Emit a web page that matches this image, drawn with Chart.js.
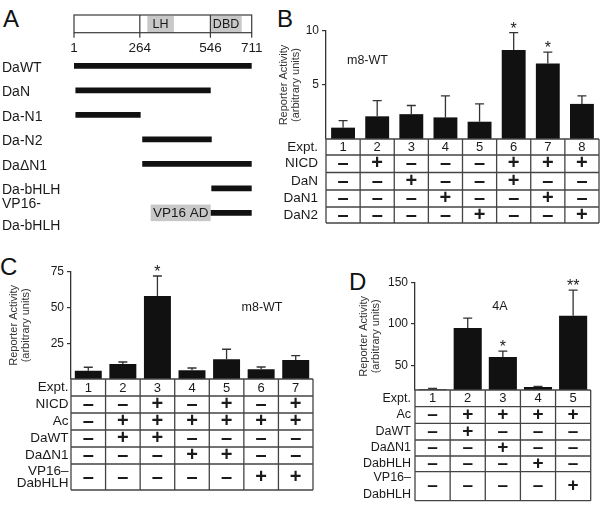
<!DOCTYPE html>
<html>
<head>
<meta charset="utf-8">
<script src="https://cdn.jsdelivr.net/npm/chart.js@4.4.1/dist/chart.umd.min.js"></script>
<style>
body { margin: 0; background: #fff; width: 600px; height: 510px; position: relative; overflow: hidden; font-family: 'Liberation Sans', Arial, sans-serif; }
canvas { position: absolute; }
.letter { position: absolute; font-size: 24px; line-height: 24px; color: #111; }
</style>
</head>
<body>
<div class="letter" style="left:3px;top:7px">A</div>
<div class="letter" style="left:277px;top:7px">B</div>
<div class="letter" style="left:0px;top:255px">C</div>
<div class="letter" style="left:349px;top:270px">D</div>
<canvas id="chartA" width="270" height="245" style="left:0;top:0"></canvas>
<canvas id="chartB" width="330" height="232" style="left:270px;top:0"></canvas>
<canvas id="chartC" width="316" height="250" style="left:0;top:250px"></canvas>
<canvas id="chartD" width="300" height="240" style="left:300px;top:270px"></canvas>
<script>
// panel A - constructs (residue numbers)
const aConstructs = ['DaWT', 'DaN', 'Da-N1', 'Da-N2', 'DaΔN1', 'Da-bHLH', ['VP16-', 'Da-bHLH']];
const aSpans = [[1, 711], [8, 546], [8, 266], [275, 550], [275, 711], [551, 711], [547, 711]];
const aTicks = [1, 264, 546, 711];
const aDomains = ['LH', 'DBD'];
const aDomainSpans = [[294, 400], [546, 671]];

// panel B - m8-WT
const bExpt = ['1', '2', '3', '4', '5', '6', '7', '8'];
const bMeans = [1.05, 2.1, 2.3, 2.0, 1.6, 8.25, 7.0, 3.25];
const bErrors = [0.65, 1.45, 0.8, 2.0, 1.65, 1.6, 1.05, 0.75];
const bStars = ['', '', '', '', '', '*', '*', ''];
const bYTicks = [5, 10];
const bRowLabels = ['NICD', 'DaN', 'DaN1', 'DaN2'];
const bSigns = [
    ['–', '+', '–', '–', '–', '+', '+', '+'],
    ['–', '–', '+', '–', '–', '+', '–', '–'],
    ['–', '–', '–', '+', '–', '–', '+', '–'],
    ['–', '–', '–', '–', '+', '–', '–', '+']
];

// panel C - m8-WT
const cExpt = ['1', '2', '3', '4', '5', '6', '7'];
const cMeans = [5.8, 10.5, 58, 6.1, 13.8, 6.8, 13.3];
const cErrors = [2.4, 1.4, 14, 1.6, 7, 1.6, 3];
const cStars = ['', '', '*', '', '', '', ''];
const cYTicks = [25, 50, 75];
const cRowLabels = ['NICD', 'Ac', 'DaWT', 'DaΔN1', ['VP16–', 'DabHLH']];
const cSigns = [
    ['–', '–', '+', '–', '+', '–', '+'],
    ['–', '+', '+', '+', '+', '+', '+'],
    ['–', '+', '+', '–', '–', '–', '–'],
    ['–', '–', '–', '+', '+', '–', '–'],
    ['–', '–', '–', '–', '–', '+', '+']
];

// panel D - 4A
const dExpt = ['1', '2', '3', '4', '5'];
const dMeans = [21, 95, 60, 23.5, 110];
const dErrors = [1, 12, 7, 1, 31];
const dStars = ['', '', '*', '', '**'];
const dYTicks = [50, 100, 150];
const dRowLabels = ['Ac', 'DaWT', 'DaΔN1', 'DabHLH', ['VP16–', 'DabHLH']];
const dSigns = [
    ['–', '+', '+', '+', '+'],
    ['–', '+', '–', '–', '–'],
    ['–', '–', '+', '–', '–'],
    ['–', '–', '–', '+', '–'],
    ['–', '–', '–', '–', '+']
];

const FONT = "'Liberation Sans', Arial, sans-serif";
const INK = '#1a1a1a';
const LINE = '#3a3a3a';

// domain map on top of panel A, construct names, VP16 AD box
const domainPlugin = {
    id: 'domainPlugin',
    afterDraw(chart) {
        const ctx = chart.ctx;
        const x = chart.scales.x;
        const y = chart.scales.y;
        const top = 15, bottom = 32.7;
        ctx.save();
        ctx.font = '12.5px ' + FONT;
        ctx.textAlign = 'center';
        ctx.textBaseline = 'middle';
        aDomainSpans.forEach((s, i) => {
            const x0 = x.getPixelForValue(s[0]), x1 = x.getPixelForValue(s[1]);
            ctx.fillStyle = '#c8c8c8';
            ctx.fillRect(x0, top + 1, x1 - x0, bottom - top - 1);
            ctx.fillStyle = INK;
            ctx.fillText(aDomains[i], (x0 + x1) / 2, (top + bottom) / 2 + 0.5);
        });
        ctx.strokeStyle = LINE;
        ctx.lineWidth = 1.2;
        const l = x.getPixelForValue(aTicks[0]), r = x.getPixelForValue(aTicks[aTicks.length - 1]);
        ctx.strokeRect(l, top, r - l, bottom - top);
        ctx.beginPath();
        aTicks.forEach(t => {
            const px = x.getPixelForValue(t);
            if (t !== aTicks[0] && t !== aTicks[aTicks.length - 1]) {
                ctx.moveTo(px, top);
                ctx.lineTo(px, bottom);
            }
            ctx.moveTo(px, bottom);
            ctx.lineTo(px, bottom + 5);
        });
        ctx.stroke();
        ctx.fillStyle = INK;
        ctx.font = '13.5px ' + FONT;
        aTicks.forEach(t => ctx.fillText(String(t), x.getPixelForValue(t), 48.5));

        // construct names, left aligned at the canvas edge
        ctx.font = '14px ' + FONT;
        ctx.textAlign = 'left';
        aConstructs.forEach((name, i) => {
            const lines = [].concat(name);
            const cy = y.getPixelForValue(i) + 2;
            lines.forEach((ln, k) => ctx.fillText(ln, 2, cy + (k - (lines.length - 1) / 2) * 21.7));
        });

        // VP16 activation domain box in front of the last construct
        const meta = chart.getDatasetMeta(0);
        const bar = meta.data[meta.data.length - 1];
        const start = Math.min(bar.base, bar.x);
        ctx.fillStyle = '#c8c8c8';
        ctx.fillRect(start - 60, bar.y - 8.3, 60, 16.6);
        ctx.fillStyle = INK;
        ctx.font = '13.5px ' + FONT;
        ctx.textAlign = 'center';
        ctx.fillText('VP16 AD', start - 30, bar.y + 0.5);
        ctx.restore();
    }
};

// error bars, stars, inner note and the +/- table under each bar chart
const panelExtras = {
    id: 'panelExtras',
    afterDatasetsDraw(chart, args, opts) {
        const ctx = chart.ctx;
        const y = chart.scales.y;
        const ds = chart.data.datasets[0];
        const meta = chart.getDatasetMeta(0);
        ctx.save();
        ctx.strokeStyle = '#333';
        ctx.lineWidth = 1.3;
        meta.data.forEach((bar, i) => {
            const top = y.getPixelForValue(ds.data[i] + opts.errors[i]);
            ctx.beginPath();
            ctx.moveTo(bar.x, bar.y);
            ctx.lineTo(bar.x, top);
            ctx.moveTo(bar.x - 4.5, top);
            ctx.lineTo(bar.x + 4.5, top);
            ctx.stroke();
            if (opts.stars[i]) {
                ctx.fillStyle = INK;
                ctx.font = '16px ' + FONT;
                ctx.textAlign = 'center';
                ctx.textBaseline = 'alphabetic';
                ctx.fillText(opts.stars[i], bar.x, top + 1);
            }
        });
        ctx.restore();
    },
    afterDraw(chart, args, opts) {
        const ctx = chart.ctx;
        const ca = chart.chartArea;
        const x = chart.scales.x;
        const n = chart.data.labels.length;
        ctx.save();
        // note inside the plot
        ctx.fillStyle = INK;
        ctx.font = '12.5px ' + FONT;
        ctx.textAlign = opts.note.align;
        ctx.textBaseline = 'middle';
        ctx.fillText(opts.note.text, ca.left + opts.note.dx, ca.top + opts.note.dy);

        const t = opts.table;
        const rows = [{label: 'Expt.', cells: chart.data.labels}].concat(
            t.labels.map((lab, k) => ({label: lab, cells: t.signs[k]})));
        let y0 = ca.bottom;
        const bounds = [y0];
        rows.forEach((row, r) => {
            const h = t.rowHeights[r];
            const cy = y0 + h / 2;
            ctx.fillStyle = INK;
            ctx.font = t.labelFont;
            ctx.textAlign = 'right';
            ctx.textBaseline = 'middle';
            const lines = [].concat(row.label);
            lines.forEach((ln, k) => {
                ctx.fillText(ln, ca.left - t.labelGap, cy + (k - (lines.length - 1) / 2) * t.labelLine);
            });
            ctx.textAlign = 'center';
            row.cells.forEach((c, i) => {
                ctx.font = r === 0 ? t.numFont : t.signFont;
                ctx.fillText(c, x.getPixelForValue(i), cy + (r === 0 ? 0.5 : 0));
            });
            y0 += h;
            bounds.push(y0);
        });
        ctx.strokeStyle = '#444';
        ctx.lineWidth = 1.3;
        ctx.beginPath();
        bounds.forEach(b => {
            ctx.moveTo(ca.left, b);
            ctx.lineTo(ca.right, b);
        });
        for (let i = 0; i <= n; i++) {
            const bx = x.getPixelForValue(i - 0.5);
            ctx.moveTo(bx, ca.bottom);
            ctx.lineTo(bx, y0);
        }
        ctx.stroke();
        ctx.restore();
    }
};

function yAxis(min, max, ticks, width) {
    return {
        min: min,
        max: max,
        afterBuildTicks(scale) { scale.ticks = ticks.map(v => ({value: v})); },
        afterFit(scale) { scale.width = width; },
        ticks: {color: INK, font: {family: FONT, size: 12}, padding: 3},
        grid: {drawOnChartArea: false, drawTicks: true, tickLength: 4, color: '#333', lineWidth: 1.2},
        border: {display: true, color: '#333', width: 1.3},
        title: {
            display: true,
            text: ['Reporter Activity', '(arbitrary units)'],
            color: '#333',
            font: {family: FONT, size: 11, lineHeight: 1.1},
            padding: 0
        }
    };
}

function barChart(id, labels, means, extras, yScale, padding, barPct) {
    new Chart(document.getElementById(id), {
        type: 'bar',
        data: {
            labels: labels,
            datasets: [{data: means, backgroundColor: '#111', borderWidth: 0, barPercentage: barPct, categoryPercentage: 1}]
        },
        options: {
            responsive: false,
            animation: false,
            layout: {padding: padding},
            scales: {x: {display: false}, y: yScale},
            plugins: {legend: {display: false}, tooltip: {enabled: false}, panelExtras: extras}
        },
        plugins: [panelExtras]
    });
}

new Chart(document.getElementById('chartA'), {
    type: 'bar',
    data: {
        labels: aConstructs,
        datasets: [{data: aSpans, backgroundColor: '#111', borderWidth: 0, barThickness: 5}]
    },
    options: {
        indexAxis: 'y',
        responsive: false,
        animation: false,
        layout: {padding: {left: 74, top: 53.6, right: 18.3, bottom: 19.9}},
        scales: {
            x: {type: 'linear', min: 1, max: 711, display: false},
            y: {display: false}
        },
        plugins: {legend: {display: false}, tooltip: {enabled: false}}
    },
    plugins: [domainPlugin]
});

barChart('chartB', bExpt, bMeans, {
    errors: bErrors,
    stars: bStars,
    note: {text: 'm8-WT', dx: 21, dy: 30, align: 'left'},
    table: {
        labels: bRowLabels, signs: bSigns,
        rowHeights: [16, 17.5, 17.5, 17, 16],
        labelGap: 8, labelLine: 12,
        labelFont: '13.5px ' + FONT, numFont: '13px ' + FONT, signFont: 'bold 20px ' + FONT
    }
}, yAxis(0, 10, bYTicks, 48), {left: 8, right: 1, top: 31, bottom: 93}, 0.7);

barChart('chartC', cExpt, cMeans, {
    errors: cErrors,
    stars: cStars,
    note: {text: 'm8-WT', dx: 191, dy: 36, align: 'center'},
    table: {
        labels: cRowLabels, signs: cSigns,
        rowHeights: [17, 17, 17, 17, 17, 26],
        labelGap: 2.5, labelLine: 12,
        labelFont: '13.5px ' + FONT, numFont: '13px ' + FONT, signFont: 'bold 20px ' + FONT
    }
}, yAxis(0, 75, cYTicks, 63), {left: 8, right: 3, top: 21.7, bottom: 121}, 0.78);

barChart('chartD', dExpt, dMeans, {
    errors: dErrors,
    stars: dStars,
    note: {text: '4A', dx: 85, dy: 24, align: 'center'},
    table: {
        labels: dRowLabels, signs: dSigns,
        rowHeights: [16.7, 16.6, 16.7, 16, 15.7, 29],
        labelGap: 4, labelLine: 16.5,
        labelFont: '12.5px ' + FONT, numFont: '13px ' + FONT, signFont: 'bold 19px ' + FONT
    }
}, yAxis(20, 150, dYTicks, 57), {left: 58, right: 9.3, top: 12.7, bottom: 120}, 0.8);
</script>
</body>
</html>
